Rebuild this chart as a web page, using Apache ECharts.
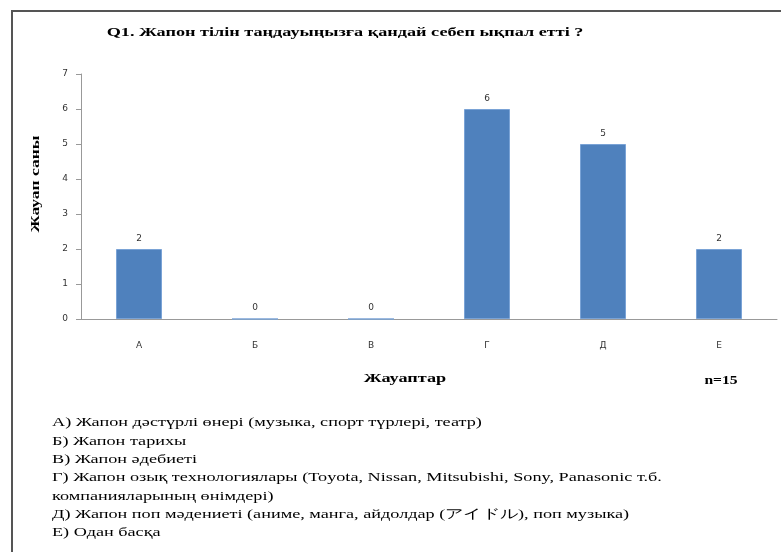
<!DOCTYPE html>
<html><head><meta charset="utf-8">
<script src="https://cdn.jsdelivr.net/npm/echarts@6/dist/echarts.min.js"></script>
<style>html,body{margin:0;padding:0;background:#fff}#c{width:781px;height:552px}</style>
</head><body><div id="c"></div>
<script>
const categories = ['А', 'Б', 'В', 'Г', 'Д', 'Е'];
const counts = [2, 0, 0, 6, 5, 2];
const yTicks = [0, 1, 2, 3, 4, 5, 6, 7];
const titleText = 'Q1. Жапон тілін таңдауыңызға қандай себеп ықпал етті ?';
const xName = 'Жауаптар';
const yName = 'Жауап саны';
const sampleNote = 'n=15';
const legendLines = [
  'А) Жапон дәстүрлі өнері (музыка, спорт түрлері, театр)',
  'Б) Жапон тарихы',
  'В) Жапон әдебиеті',
  'Г) Жапон озық технологиялары (Toyota, Nissan, Mitsubishi, Sony, Panasonic т.б.',
  'компанияларының өнімдері)',
  'Д) Жапон поп мәдениеті (аниме, манга, айдолдар (アイドル), поп музыка)',
  'Е) Одан басқа'
];
const serif = '"Liberation Serif", "DejaVu Serif", serif';
const sx = 1.4;
const chart = echarts.init(document.getElementById('c'));
function txt(text, x, y, opts) {
  return Object.assign({type:'text', x:x, y:y, scaleX:sx,
    style:{text:text, x:0, y:0, align:'left', verticalAlign:'middle', font:'13px ' + serif, fill:'#000'}}, opts || {});
}
const graphics = [
  {type:'rect', shape:{x:12, y:11, width:790, height:560}, style:{fill:'none', stroke:'#555', lineWidth:2}},
  txt(titleText, 345, 33, {style:{text:titleText, x:0, y:0, align:'center', verticalAlign:'middle', font:'bold 13px ' + serif, fill:'#000'}}),
  txt(xName, 405, 379, {style:{text:xName, x:0, y:0, align:'center', verticalAlign:'middle', font:'bold 13px ' + serif, fill:'#000'}}),
  txt(sampleNote, 721, 381, {style:{text:sampleNote, x:0, y:0, align:'center', verticalAlign:'middle', font:'bold 13px ' + serif, fill:'#000'}, scaleX:1.2}),
  txt(yName, 36, 184, {rotation:Math.PI/2, scaleX:1.35, style:{text:yName, x:0, y:0, align:'center', verticalAlign:'middle', font:'bold 13px ' + serif, fill:'#000'}})
];
legendLines.forEach((t, i) => {
  graphics.push(txt(t, 52, 423 + i * 18.3));
});
chart.setOption({
  animation:false,
  grid:{left:81, right:4, top:74, bottom:233},
  xAxis:{type:'category', data:categories,
    axisLine:{lineStyle:{color:'#999'}}, axisTick:{show:false},
    axisLabel:{fontFamily:'"DejaVu Sans", sans-serif', fontSize:9, color:'#333', margin:22}},
  yAxis:{type:'value', min:0, max:7, interval:1,
    splitLine:{show:false},
    axisLine:{show:true, lineStyle:{color:'#999'}}, axisTick:{show:true, length:5, inside:false, lineStyle:{color:'#999'}},
    axisLabel:{fontFamily:'"DejaVu Sans", sans-serif', fontSize:9, color:'#333', margin:13,
      formatter:v => yTicks.includes(v) ? String(v) : ''}},
  series:[{type:'bar', data:counts, barWidth:46,
    itemStyle:{color:'#4F81BD', borderColor:'#7aa3d6', borderWidth:1},
    label:{show:true, position:'top', distance:6, fontFamily:'"DejaVu Sans", sans-serif', fontSize:9, color:'#333'}}],
  graphic:graphics
});
</script></body></html>
